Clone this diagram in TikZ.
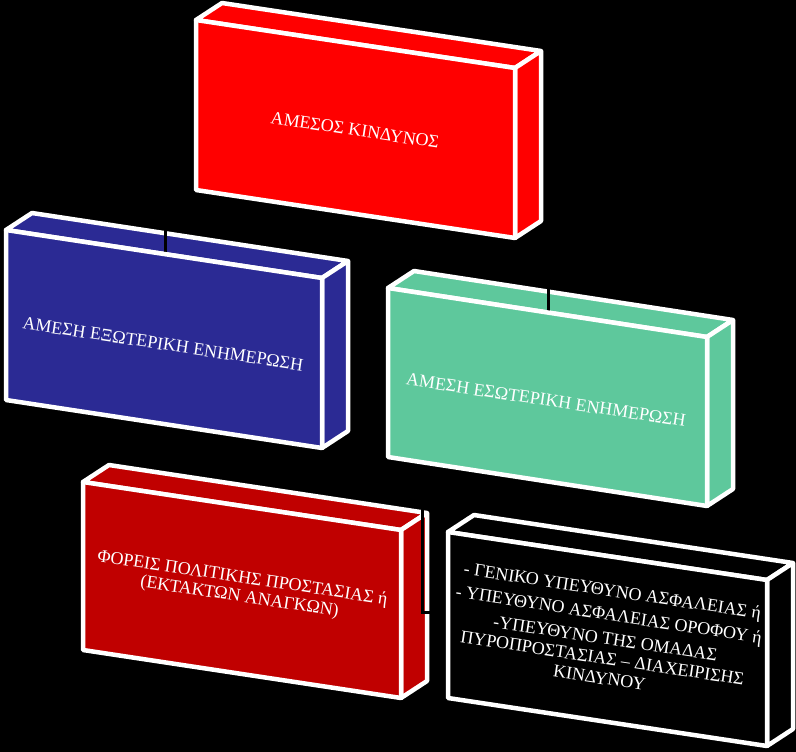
\documentclass[tikz,border=0pt]{standalone}
\usepackage{fontspec}
\setmainfont{Liberation Serif}
\usetikzlibrary{calc}
\definecolor{boxred}{HTML}{FF0000}
\definecolor{boxblue}{HTML}{2B2A94}
\definecolor{boxgreen}{HTML}{5EC89C}
\definecolor{boxdarkred}{HTML}{C00000}
\definecolor{boxblack}{HTML}{000000}
\tikzset{
  face/.style={draw=white, line width=4.5pt, line join=round},
  conn/.style={draw=black, line width=3pt},
  lbl/.style={text=white, font=\fontsize{18}{21}\selectfont, align=center, rotate=-8.56, inner sep=0pt},
}
\newcommand{\boxcoords}[6]{%
  \coordinate (#1-ftl) at (#2,#3);
  \coordinate (#1-ftr) at ({#2+#4},{#3+#5});
  \coordinate (#1-fbr) at ({#2+#4},{#3+#5+#6});
  \coordinate (#1-fbl) at (#2,{#3+#6});
  \coordinate (#1-btl) at ($(#1-ftl)+(26,-17)$);
  \coordinate (#1-btr) at ($(#1-ftr)+(26,-17)$);
  \coordinate (#1-bbr) at ($(#1-fbr)+(26,-17)$);
}
\newcommand{\sidefaces}[2]{%
  \filldraw[face, fill=#2] (#1-ftl) -- (#1-btl) -- (#1-btr) -- (#1-ftr) -- cycle;
  \filldraw[face, fill=#2] (#1-ftr) -- (#1-btr) -- (#1-bbr) -- (#1-fbr) -- cycle;
}
\newcommand{\frontface}[2]{%
  \filldraw[face, fill=#2] (#1-ftl) -- (#1-ftr) -- (#1-fbr) -- (#1-fbl) -- cycle;
}
\begin{document}
\begin{tikzpicture}[x=1pt, y=-1pt]
\fill[black] (0,0) rectangle (796,752);
\useasboundingbox (0,0) rectangle (796,752);
% box geometry
\boxcoords{A}{196}{20}{319}{48}{170}
\boxcoords{B}{6}{230}{316}{48}{170}
\boxcoords{C}{388}{288}{319}{49}{169}
\boxcoords{D}{83}{482}{318}{48}{168}
\boxcoords{E}{448}{532}{319}{48}{166}
% connector end points
\coordinate (c1s) at (200,150);
\coordinate (c1e) at (165,254);
\coordinate (c2s) at (530,150);
\coordinate (c2e) at (548,312.5);
\coordinate (c3s) at (422,463);
\coordinate (c3e) at (448,612);
\coordinate (c4s) at (60,408);
\coordinate (c4e) at (83,563);
% side faces of the lower boxes
\sidefaces{B}{boxblue}
\sidefaces{C}{boxgreen}
\sidefaces{D}{boxdarkred}
\sidefaces{E}{boxblack}
% connectors
\draw[conn] (c1s) -| (c1e);
\draw[conn] (c2s) -| (c2e);
\draw[conn] (c3s) |- (c3e);
\draw[conn] (c4s) |- (c4e);
% top box and all front faces
\sidefaces{A}{boxred}
\frontface{A}{boxred}
\frontface{B}{boxblue}
\frontface{C}{boxgreen}
\frontface{D}{boxdarkred}
\frontface{E}{boxblack}
% labels
\node[lbl] (tA) at (355,130) {ΑΜΕΣΟΣ ΚΙΝΔΥΝΟΣ};
\node[lbl] (tB) at (163,344) {ΑΜΕΣΗ ΕΞΩΤΕΡΙΚΗ ΕΝΗΜΕΡΩΣΗ};
\node[lbl] (tC) at (546,400) {ΑΜΕΣΗ ΕΣΩΤΕΡΙΚΗ ΕΝΗΜΕΡΩΣΗ};
\node[lbl, font=\fontsize{18}{19}\selectfont] (tD) at (241,588) {ΦΟΡΕΙΣ ΠΟΛΙΤΙΚΗΣ ΠΡΟΣΤΑΣΙΑΣ ή\\(ΕΚΤΑΚΤΩΝ ΑΝΑΓΚΩΝ)};
\node[lbl, font=\fontsize{18}{20}\selectfont] (tE) at (606,634) {- ΓΕΝΙΚΟ ΥΠΕΥΘΥΝΟ ΑΣΦΑΛΕΙΑΣ ή\\[4pt]- ΥΠΕΥΘΥΝΟ ΑΣΦΑΛΕΙΑΣ ΟΡΟΦΟΥ ή\\[4pt]-ΥΠΕΥΘΥΝΟ ΤΗΣ ΟΜΑΔΑΣ\\ΠΥΡΟΠΡΟΣΤΑΣΙΑΣ – ΔΙΑΧΕΙΡΙΣΗΣ\\ΚΙΝΔΥΝΟΥ};
\end{tikzpicture}
\end{document}
